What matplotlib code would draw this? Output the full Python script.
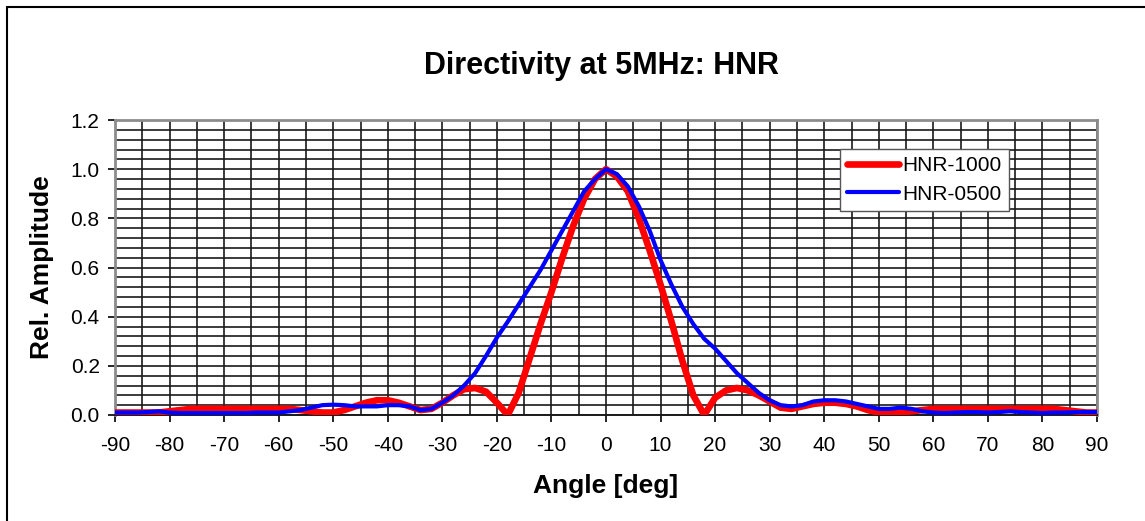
import numpy as np
import matplotlib
matplotlib.use("Agg")
import matplotlib.pyplot as plt
from matplotlib.patches import Rectangle
from matplotlib.ticker import MultipleLocator

plt.rcParams['font.family'] = ['Liberation Sans', 'DejaVu Sans']
plt.rcParams['axes.unicode_minus'] = False

angles = list(range(-90, 91, 2))

hnr_1000 = [0.01, 0.01, 0.01, 0.01, 0.01, 0.015, 0.02, 0.025, 0.025, 0.025,
            0.025, 0.025, 0.025, 0.025, 0.025, 0.025, 0.025, 0.02, 0.015, 0.01,
            0.01, 0.02, 0.035, 0.05, 0.06, 0.06, 0.05, 0.035, 0.02, 0.025,
            0.05, 0.08, 0.105, 0.11, 0.095, 0.05, 0.0, 0.09, 0.23, 0.37,
            0.50, 0.64, 0.77, 0.88, 0.96, 1.0, 0.97, 0.91, 0.80, 0.67,
            0.53, 0.38, 0.22, 0.08, 0.0, 0.07, 0.10, 0.11, 0.10, 0.08,
            0.055, 0.03, 0.025, 0.035, 0.045, 0.05, 0.05, 0.045, 0.035, 0.02,
            0.01, 0.01, 0.01, 0.015, 0.02, 0.025, 0.025, 0.025, 0.025, 0.025,
            0.025, 0.025, 0.025, 0.025, 0.025, 0.025, 0.025, 0.02, 0.015, 0.01,
            0.01]

hnr_0500 = [0.01, 0.01, 0.01, 0.012, 0.015, 0.01, 0.008, 0.008, 0.008, 0.008,
            0.008, 0.008, 0.008, 0.01, 0.01, 0.01, 0.015, 0.02, 0.03, 0.04,
            0.042, 0.04, 0.035, 0.035, 0.035, 0.04, 0.04, 0.035, 0.02, 0.025,
            0.05, 0.08, 0.12, 0.17, 0.24, 0.315, 0.38, 0.45, 0.52, 0.59,
            0.67, 0.75, 0.83, 0.91, 0.96, 1.0, 0.98, 0.93, 0.85, 0.75,
            0.63, 0.53, 0.44, 0.37, 0.31, 0.27, 0.22, 0.17, 0.13, 0.09,
            0.06, 0.04, 0.035, 0.04, 0.055, 0.06, 0.06, 0.055, 0.045, 0.035,
            0.025, 0.025, 0.03, 0.025, 0.015, 0.01, 0.008, 0.01, 0.012, 0.012,
            0.01, 0.012, 0.015, 0.012, 0.01, 0.008, 0.01, 0.01, 0.012, 0.012,
            0.012]

x_ticks = list(range(-90, 91, 10))
y_ticks = [0.0, 0.2, 0.4, 0.6, 0.8, 1.0, 1.2]

fig = plt.figure(figsize=(11.45, 5.21), dpi=100)
ax = fig.add_axes([115/1145, 1 - 415/521, (1097-115)/1145, (415-120)/521])

ax.plot(angles, hnr_1000, color='#ff0000', lw=4.8, label='HNR-1000',
        solid_joinstyle='round', solid_capstyle='round', zorder=3)
ax.plot(angles, hnr_0500, color='#0000ff', lw=3.0, label='HNR-0500',
        solid_joinstyle='round', solid_capstyle='round', zorder=4)

ax.set_xlim(-90, 90)
ax.set_ylim(0, 1.2)
ax.set_xticks(x_ticks)
ax.set_yticks(y_ticks)
ax.set_yticklabels([f"{v:.1f}" for v in y_ticks])
ax.xaxis.set_minor_locator(MultipleLocator(5))
ax.yaxis.set_minor_locator(MultipleLocator(0.04))
ax.tick_params(which='minor', length=0)
ax.tick_params(which='major', direction='out', length=5, width=1.2, color='black',
               labelsize=15)
ax.tick_params(axis='x', pad=10)
ax.tick_params(axis='y', pad=6)
ax.grid(which='both', color='#1a1a1a', lw=1.2, zorder=1)
ax.set_axisbelow(True)
for s in ax.spines.values():
    s.set_color('#8c8c8c')
    s.set_linewidth(2)
ax.spines['bottom'].set_color('#1a1a1a')
ax.spines['bottom'].set_linewidth(1.4)

ax.set_xlabel('Angle [deg]', fontsize=19, fontweight='bold', labelpad=14)
ax.set_ylabel('Rel. Amplitude', fontsize=19, fontweight='bold', labelpad=12)
fig.text(601/1145, 1 - 66/521, 'Directivity at 5MHz: HNR', fontsize=22,
         fontweight='bold', ha='center', va='center')

leg = ax.legend(loc='upper left', bbox_to_anchor=((840-115)/982, (415-149)/295),
                fontsize=15, frameon=True, fancybox=False, handlelength=2.5,
                handletextpad=0.15, borderpad=0.35, labelspacing=0.45,
                borderaxespad=0)
leg.get_frame().set_edgecolor('#555555')
leg.get_frame().set_linewidth(1.0)
leg.get_frame().set_facecolor('white')
leg.get_frame().set_alpha(1)

border = Rectangle((7/1145, -0.1), 2, 1 - 7/521 + 0.1, transform=fig.transFigure,
                   fill=False, edgecolor='black', lw=1.5)
fig.patches.append(border)

fig.savefig('out.png', dpi=100)
